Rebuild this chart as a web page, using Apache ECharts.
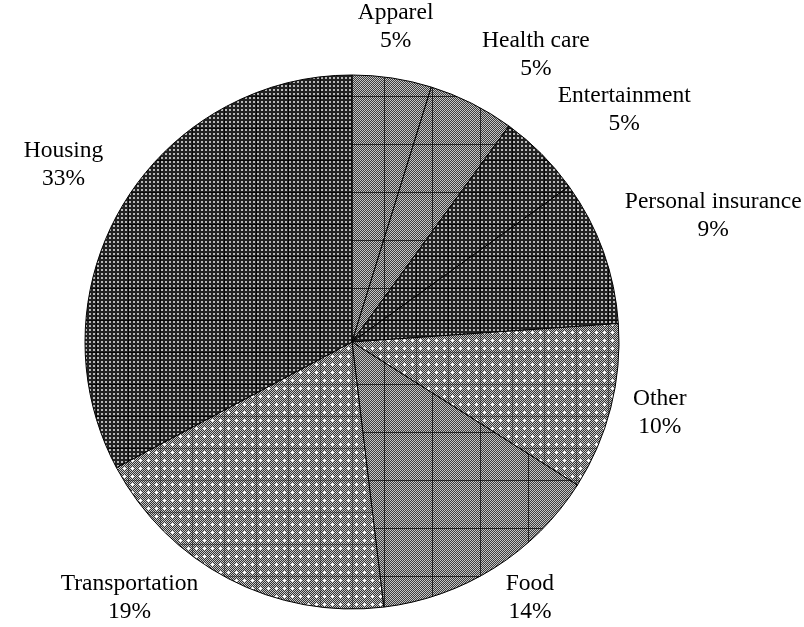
<!DOCTYPE html>
<html>
<head>
<meta charset="utf-8">
<script src="https://cdn.jsdelivr.net/npm/echarts@6/dist/echarts.min.js"></script>
<style>
  html, body { margin: 0; padding: 0; background: #fff; }
  #main { width: 804px; height: 627px; }
</style>
</head>
<body>
<div id="main"></div>
<script>
// data (slice sizes in percent, clockwise from 12 o'clock)
const categories = ['Apparel', 'Health care', 'Entertainment', 'Personal insurance', 'Other', 'Food', 'Transportation', 'Housing'];
const values = [4.8, 5.2, 5.1, 8.8, 10.1, 14.1, 19.1, 32.8];
const fills = ['checker', 'checker', 'dots', 'dots', 'cross', 'checker', 'cross', 'dots'];

const W = 804, H = 627;
const CX = 352, CY = 342, R = 267, GAP = 23;

// small pattern tiles like the old office fills
function makeTile(kind) {
  const size = kind === 'checker' ? 48 : 32;
  const cv = document.createElement('canvas');
  cv.width = size; cv.height = size;
  const ctx = cv.getContext('2d');
  for (let y = 0; y < size; y++) {
    for (let x = 0; x < size; x++) {
      let c;
      if (kind === 'dots') {
        c = (x % 4 === 1 || x % 4 === 2) && (y % 4 === 1 || y % 4 === 2) ? '#b8b8b8' : '#222';
      } else if (kind === 'checker') {
        c = (x + y) % 2 ? '#3c3c3c' : '#c4c4c4';
      } else {
        const cx = x % 8, cy = y % 8;
        const plus = (cx === 4 && cy >= 3 && cy <= 5) || (cy === 4 && cx >= 3 && cx <= 5);
        c = plus ? '#fff' : ((x + y) % 2 ? '#333' : '#c8c8c8');
      }
      ctx.fillStyle = c;
      ctx.fillRect(x, y, 1, 1);
    }
  }
  // faint grid lines seen in the reference fills
  ctx.fillStyle = kind === 'cross' ? 'rgba(0,0,0,0.35)' : 'rgba(0,0,0,0.7)';
  ctx.fillRect(0, 0, size, 1);
  ctx.fillRect(0, 0, 1, size);
  return cv;
}

const tiles = {};
['dots', 'checker', 'cross'].forEach(k => { tiles[k] = makeTile(k); });

const total = values.reduce((a, b) => a + b, 0);
const midAngles = [];
let acc = 0;
values.forEach(v => {
  midAngles.push((acc + v / 2) / total * Math.PI * 2);
  acc += v;
});

// label box hangs off a point just outside the rim on the slice's mid ray
function placeLabel(p) {
  const a = midAngles[p.dataIndex];
  const s = Math.sin(a), c = Math.cos(a);
  const w = p.labelRect.width, h = p.labelRect.height;
  const ax = CX + (R + GAP) * s;
  const ay = CY - (R + GAP) * c;
  const fx = s > 0.25 ? 0 : s < -0.25 ? 1 : 0.5;   // anchor position inside the box
  const fy = c > 0.25 ? 1 : c < -0.25 ? 0 : 0.5;
  let left = ax - fx * w;
  let top = ay - fy * h;
  if (top + h > H - 1) {
    // slide in along the ray until it fits, then keep clear of the rim
    top = H - 1 - h;
    const dy = top - CY;
    left = CX + dy * Math.tan(a < Math.PI ? Math.PI - a : a - Math.PI) * (s < 0 ? -1 : 1) - fx * w;
    const edge = s < 0 ? left + w : left;
    const need = R + 8;
    if (Math.hypot(edge - CX, dy) < need) {
      const dx = Math.sqrt(need * need - dy * dy);
      left = s < 0 ? CX - dx - w : CX + dx;
    }
  }
  return { x: left + w / 2, y: top + h / 2, align: 'center', verticalAlign: 'middle' };
}

const chart = echarts.init(document.getElementById('main'));
chart.setOption({
  backgroundColor: '#fff',
  animation: false,
  series: [{
    type: 'pie',
    center: [CX, CY],
    radius: R,
    startAngle: 90,
    clockwise: true,
    avoidLabelOverlap: false,
    emphasis: { disabled: true },
    data: categories.map((name, i) => ({
      name: name,
      value: values[i],
      itemStyle: { color: { image: tiles[fills[i]], repeat: 'repeat' } }
    })),
    itemStyle: { borderColor: '#000', borderWidth: 1 },
    label: {
      show: true,
      position: 'outside',
      fontFamily: 'Liberation Serif',
      fontSize: 23.5,
      lineHeight: 28,
      color: '#000',
      formatter: p => p.name + '\n' + Math.round(p.percent) + '%'
    },
    labelLine: { show: false },
    labelLayout: placeLabel
  }]
});
</script>
</body>
</html>
